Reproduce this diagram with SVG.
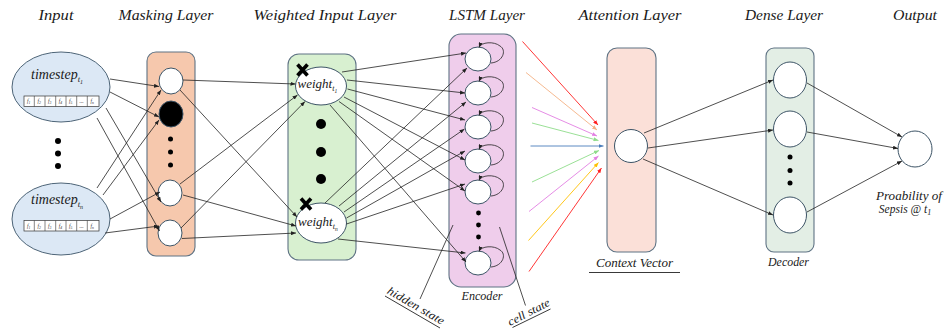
<svg xmlns="http://www.w3.org/2000/svg" width="944" height="331" viewBox="0 0 944 331">
<style>
.t{font-family:"Liberation Serif",serif;font-style:italic;fill:#1a1a1a}
.title{font-size:15px}
.lbl{font-size:11.5px}
.ft{font-family:"Liberation Serif",serif;font-style:italic;font-size:5.5px;fill:#333}
.box{stroke:#5f7384;stroke-width:1.1}
.nd{fill:#fff;stroke:#3d5466;stroke-width:1}
.c{fill:none;stroke:#222;stroke-width:0.8}
.dot{fill:#000}
.ul{stroke:#222;stroke-width:0.9}
</style>
<defs>
<marker id="a" markerUnits="userSpaceOnUse" markerWidth="5" markerHeight="4" refX="5" refY="2" orient="auto"><path d="M0,0 L5,2 L0,4 z" fill="#222"/></marker>
<marker id="ar" markerUnits="userSpaceOnUse" markerWidth="5" markerHeight="4" refX="5" refY="2" orient="auto"><path d="M0,0 L5,2 L0,4 z" fill="#ff1f1f"/></marker>
<marker id="ao" markerUnits="userSpaceOnUse" markerWidth="5" markerHeight="4" refX="5" refY="2" orient="auto"><path d="M0,0 L5,2 L0,4 z" fill="#f4b183"/></marker>
<marker id="ap" markerUnits="userSpaceOnUse" markerWidth="5" markerHeight="4" refX="5" refY="2" orient="auto"><path d="M0,0 L5,2 L0,4 z" fill="#e27fe2"/></marker>
<marker id="ag" markerUnits="userSpaceOnUse" markerWidth="5" markerHeight="4" refX="5" refY="2" orient="auto"><path d="M0,0 L5,2 L0,4 z" fill="#8fdc8a"/></marker>
<marker id="ab" markerUnits="userSpaceOnUse" markerWidth="5" markerHeight="4" refX="5" refY="2" orient="auto"><path d="M0,0 L5,2 L0,4 z" fill="#4a7ebb"/></marker>
<marker id="ay" markerUnits="userSpaceOnUse" markerWidth="5" markerHeight="4" refX="5" refY="2" orient="auto"><path d="M0,0 L5,2 L0,4 z" fill="#ffc000"/></marker>
<g id="fbox">
<rect x="24" y="0" width="75" height="10.5" fill="#fff" stroke="#333" stroke-width="0.7"/>
<path d="M34.3,0v10.5M45,0v10.5M55.7,0v10.5M66,0v10.5M76.7,0v10.5M87.3,0v10.5" stroke="#333" stroke-width="0.6"/>
<text class="ft" x="27" y="7.3">f<tspan font-size="3.8" dy="1">1</tspan></text>
<text class="ft" x="37.5" y="7.3">f<tspan font-size="3.8" dy="1">2</tspan></text>
<text class="ft" x="48" y="7.3">f<tspan font-size="3.8" dy="1">3</tspan></text>
<text class="ft" x="58.7" y="7.3">f<tspan font-size="3.8" dy="1">4</tspan></text>
<text class="ft" x="69" y="7.3">f<tspan font-size="3.8" dy="1">5</tspan></text>
<text class="ft" x="79.5" y="7.3">...</text>
<text class="ft" x="90.5" y="7.3">f<tspan font-size="3.8" dy="1">n</tspan></text>
</g>
<path id="loop" d="M491,4 C503,3 507,-9 500,-13 C494,-18 481,-17 479,-11.5" fill="none" stroke="#222" stroke-width="0.8" marker-end="url(#a)"/>
</defs>
<rect width="944" height="331" fill="#fff"/>

<g id="titles">
<text class="t title" x="56" y="20" text-anchor="middle" textLength="35" lengthAdjust="spacingAndGlyphs">Input</text>
<text class="t title" x="166" y="20" text-anchor="middle" textLength="95" lengthAdjust="spacingAndGlyphs">Masking Layer</text>
<text class="t title" x="325" y="20" text-anchor="middle" textLength="143" lengthAdjust="spacingAndGlyphs">Weighted Input Layer</text>
<text class="t title" x="487" y="20" text-anchor="middle" textLength="76" lengthAdjust="spacingAndGlyphs">LSTM Layer</text>
<text class="t title" x="630" y="20" text-anchor="middle" textLength="103" lengthAdjust="spacingAndGlyphs">Attention Layer</text>
<text class="t title" x="784" y="20" text-anchor="middle" textLength="78" lengthAdjust="spacingAndGlyphs">Dense Layer</text>
<text class="t title" x="915" y="20" text-anchor="middle" textLength="44" lengthAdjust="spacingAndGlyphs">Output</text>
</g>

<g id="input">
<ellipse cx="61" cy="87" rx="49" ry="35" fill="#dce8f5" stroke="#4d6477" stroke-width="1"/>
<text class="t" x="31" y="79" font-size="14">timestep<tspan font-size="8.5" dy="3">t</tspan><tspan font-size="6" dy="2">1</tspan></text>
<use href="#fbox" y="96"/>
<circle class="dot" cx="58" cy="141" r="3"/>
<circle class="dot" cx="58" cy="153.5" r="3"/>
<circle class="dot" cx="58" cy="166" r="3"/>
<ellipse cx="61" cy="219" rx="49" ry="36" fill="#dce8f5" stroke="#4d6477" stroke-width="1"/>
<text class="t" x="31" y="204" font-size="14">timestep<tspan font-size="8.5" dy="3">t</tspan><tspan font-size="6" dy="2">n</tspan></text>
<use href="#fbox" y="220.5"/>
</g>

<g id="masking">
<rect class="box" x="147" y="52" width="48" height="204" rx="9" fill="#f6c8ad"/>
<ellipse class="nd" cx="171" cy="81" rx="12" ry="13"/>
<ellipse cx="171" cy="114" rx="12" ry="13" fill="#000" stroke="#3d5466"/>
<circle class="dot" cx="170.5" cy="139" r="2.5"/>
<circle class="dot" cx="170.5" cy="152" r="2.5"/>
<circle class="dot" cx="170.5" cy="165" r="2.5"/>
<ellipse class="nd" cx="170" cy="193" rx="12" ry="13"/>
<ellipse class="nd" cx="170" cy="233" rx="12" ry="13"/>
</g>

<g id="weighted">
<rect class="box" x="288" y="54" width="68" height="206" rx="11" fill="#d8f0d0"/>
<ellipse class="nd" cx="321" cy="86" rx="25.5" ry="19"/>
<text class="t" x="297.5" y="88" font-size="13">weight<tspan font-size="8" dy="3">t</tspan><tspan font-size="5.5" dy="2">1</tspan></text>
<circle class="dot" cx="321" cy="124" r="5"/>
<circle class="dot" cx="321" cy="152" r="5"/>
<circle class="dot" cx="321" cy="179" r="5"/>
<ellipse class="nd" cx="321" cy="223" rx="25.5" ry="20"/>
<text class="t" x="298" y="226" font-size="13">weight<tspan font-size="8" dy="3">t</tspan><tspan font-size="5.5" dy="2">n</tspan></text>
<path d="M297.5,64.5L307.5,75.5M307.5,64.5L297.5,75.5" stroke="#000" stroke-width="3.6"/>
<path d="M301,198.5L311,209.5M311,198.5L301,209.5" stroke="#000" stroke-width="3.6"/>
</g>

<g id="lstm">
<rect class="box" x="449" y="34" width="67" height="253" rx="12" fill="#efcdeb"/>
<ellipse class="nd" cx="478" cy="59" rx="13" ry="12"/>
<ellipse class="nd" cx="478" cy="93" rx="13" ry="12"/>
<ellipse class="nd" cx="478" cy="127" rx="13" ry="12"/>
<ellipse class="nd" cx="478" cy="161" rx="13" ry="12"/>
<ellipse class="nd" cx="478" cy="192" rx="13" ry="12"/>
<ellipse class="nd" cx="478" cy="263" rx="13" ry="12"/>
<use href="#loop" y="59"/>
<use href="#loop" y="93"/>
<use href="#loop" y="127"/>
<use href="#loop" y="161"/>
<use href="#loop" y="192"/>
<use href="#loop" y="263"/>
<circle class="dot" cx="478.5" cy="213" r="2.4"/>
<circle class="dot" cx="478.5" cy="225" r="2.4"/>
<circle class="dot" cx="478.5" cy="237" r="2.4"/>
<text class="t lbl" x="482" y="300" text-anchor="middle" textLength="41" lengthAdjust="spacingAndGlyphs">Encoder</text>
</g>

<g id="attention">
<rect class="box" x="607" y="48" width="49" height="204" rx="10" fill="#fbe0d8"/>
<ellipse class="nd" cx="631" cy="146" rx="16.5" ry="16.5"/>
<text class="t lbl" x="634.5" y="267" text-anchor="middle" textLength="77" lengthAdjust="spacingAndGlyphs">Context Vector</text>
<line class="ul" x1="589" y1="272.5" x2="680" y2="272.5"/>
</g>

<g id="dense">
<rect class="box" x="766" y="48" width="48" height="204" rx="8" fill="#e3eee5"/>
<ellipse class="nd" cx="790" cy="80" rx="16.5" ry="18"/>
<ellipse class="nd" cx="790" cy="129" rx="16.5" ry="18"/>
<circle class="dot" cx="790" cy="157" r="2.5"/>
<circle class="dot" cx="790" cy="170.5" r="2.5"/>
<circle class="dot" cx="790" cy="183" r="2.5"/>
<ellipse class="nd" cx="790" cy="215" rx="16.5" ry="18"/>
<text class="t lbl" x="788.5" y="266" text-anchor="middle" textLength="41" lengthAdjust="spacingAndGlyphs">Decoder</text>
</g>

<g id="output">
<ellipse class="nd" cx="915" cy="149" rx="17" ry="18"/>
<text class="t lbl" x="909" y="200" text-anchor="middle" textLength="66" lengthAdjust="spacingAndGlyphs">Proability of</text>
<text class="t lbl" x="905" y="213" text-anchor="middle">Sepsis @ t<tspan font-size="8" dy="2">1</tspan></text>
</g>

<g id="annotations">
<line class="c" x1="453" y1="225" x2="420" y2="299"/>
<text class="t lbl" transform="translate(414,309) rotate(30)" text-anchor="middle" textLength="64" lengthAdjust="spacingAndGlyphs">hidden state</text>
<line class="ul" x1="385" y1="296" x2="440" y2="328"/>
<line class="c" x1="499.5" y1="227" x2="525.5" y2="305.5"/>
<text class="t lbl" transform="translate(530.5,315.5) rotate(-27.5)" text-anchor="middle" textLength="46" lengthAdjust="spacingAndGlyphs">cell state</text>
<line class="ul" x1="512.5" y1="327.5" x2="550.5" y2="309"/>
</g>

<g id="connectors">
<g class="c" marker-end="url(#a)">
<line x1="110" y1="79" x2="159" y2="86.5"/>
<line x1="110" y1="92" x2="159" y2="117"/>
<line x1="106" y1="108" x2="161" y2="202"/>
<line x1="97" y1="118" x2="159.5" y2="231"/>
<line x1="97" y1="188" x2="161" y2="90"/>
<line x1="103" y1="195" x2="159" y2="120"/>
<line x1="110" y1="219" x2="160" y2="192"/>
<line x1="105" y1="233" x2="159" y2="226"/>
<line x1="183" y1="80" x2="295.5" y2="84"/>
<line x1="180" y1="90" x2="297" y2="217"/>
<line x1="180" y1="184" x2="297.5" y2="95"/>
<line x1="183" y1="195" x2="296" y2="226"/>
<line x1="181" y1="228" x2="305" y2="101.5"/>
<line x1="182" y1="238.5" x2="296" y2="233"/>
<line x1="342" y1="72" x2="466" y2="53"/>
<line x1="347" y1="80" x2="465" y2="93"/>
<line x1="347.5" y1="89" x2="465" y2="120"/>
<line x1="344" y1="97" x2="465" y2="160"/>
<line x1="339" y1="101.5" x2="465" y2="191"/>
<line x1="330" y1="105" x2="466" y2="262"/>
<line x1="325" y1="203" x2="467" y2="68"/>
<line x1="339" y1="206" x2="466" y2="102"/>
<line x1="344" y1="212" x2="464.5" y2="129"/>
<line x1="346.5" y1="218" x2="465" y2="151"/>
<line x1="346.5" y1="224" x2="465" y2="184"/>
<line x1="338" y1="239" x2="465.5" y2="253"/>
<line x1="644" y1="133" x2="773" y2="80"/>
<line x1="648" y1="148" x2="773" y2="130"/>
<line x1="643" y1="159" x2="773" y2="215"/>
<line x1="807" y1="83" x2="902" y2="137"/>
<line x1="807" y1="132" x2="898" y2="148.5"/>
<line x1="807" y1="212" x2="902" y2="161"/>
</g>
<g fill="none" stroke-width="0.9">
<line x1="522.5" y1="41.5" x2="598" y2="125" stroke="#ff1f1f" marker-end="url(#ar)"/>
<line x1="526" y1="72.5" x2="597" y2="130" stroke="#f4b183" marker-end="url(#ao)"/>
<line x1="532" y1="107.5" x2="597" y2="136" stroke="#e27fe2" marker-end="url(#ap)"/>
<line x1="532" y1="123" x2="598.5" y2="140.5" stroke="#8fdc8a" marker-end="url(#ag)"/>
<line x1="530.5" y1="146" x2="603.5" y2="146" stroke="#4a7ebb" marker-end="url(#ab)"/>
<line x1="532" y1="182" x2="599" y2="150.5" stroke="#8fdc8a" marker-end="url(#ag)"/>
<line x1="529" y1="211.5" x2="598.5" y2="156" stroke="#e27fe2" marker-end="url(#ap)"/>
<line x1="528.5" y1="240.5" x2="598.5" y2="162.5" stroke="#ffc000" marker-end="url(#ay)"/>
<line x1="529" y1="271.5" x2="601.5" y2="168" stroke="#ff1f1f" marker-end="url(#ar)"/>
</g>
</g>
</svg>
